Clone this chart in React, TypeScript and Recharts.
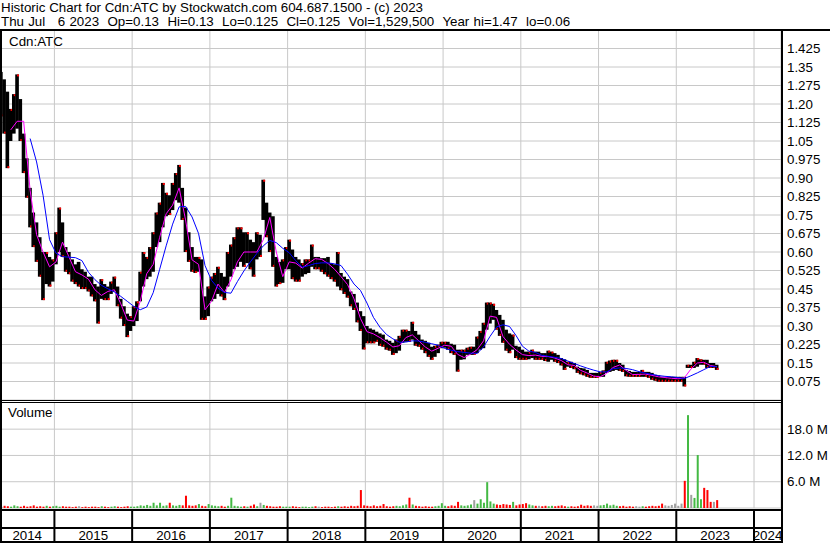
import React from 'react';
import { ComposedChart, Bar, Line, XAxis, YAxis, CartesianGrid } from 'recharts';

const FONT = '"Liberation Sans", Arial, sans-serif';
const FS = 13.33;

// half-month periods, first one is the second half of April 2014
const START_YEAR = 2014;
const START_HALF = 7;

const HI = [
  1.33, 1.30, 1.25, 1.18, 1.24, 1.32, 1.22, 1.08, 0.98, 0.86,
  0.76, 0.72, 0.66, 0.60, 0.60, 0.58, 0.57, 0.68, 0.78, 0.72,
  0.62, 0.60, 0.57, 0.55, 0.56, 0.53, 0.52, 0.50, 0.50, 0.47,
  0.46, 0.49, 0.47, 0.46, 0.48, 0.50, 0.46, 0.41, 0.38, 0.35,
  0.34, 0.38, 0.40, 0.52, 0.60, 0.58, 0.62, 0.68, 0.76, 0.80,
  0.88, 0.84, 0.83, 0.88, 0.92, 0.953, 0.86, 0.78, 0.68, 0.62,
  0.58, 0.58, 0.57, 0.42, 0.46, 0.50, 0.515, 0.54, 0.515, 0.50,
  0.60, 0.63, 0.66, 0.70, 0.70, 0.68, 0.68, 0.65, 0.64, 0.68,
  0.67, 0.893, 0.80, 0.76, 0.745, 0.58, 0.56, 0.57, 0.62, 0.65,
  0.61, 0.58, 0.57, 0.555, 0.57, 0.57, 0.63, 0.58, 0.58, 0.575,
  0.575, 0.58, 0.555, 0.55, 0.60, 0.515, 0.50, 0.49, 0.44, 0.43,
  0.395, 0.36, 0.34, 0.30, 0.29, 0.285, 0.277, 0.27, 0.265, 0.245,
  0.24, 0.232, 0.245, 0.26, 0.285, 0.285, 0.28, 0.317, 0.28, 0.265,
  0.245, 0.24, 0.232, 0.216, 0.22, 0.224, 0.236, 0.236, 0.236, 0.228,
  0.224, 0.204, 0.204, 0.204, 0.212, 0.216, 0.216, 0.257, 0.28, 0.313,
  0.395, 0.395, 0.39, 0.365, 0.345, 0.325, 0.285, 0.27, 0.265, 0.22,
  0.216, 0.204, 0.196, 0.196, 0.204, 0.196, 0.196, 0.19, 0.19, 0.20,
  0.196, 0.19, 0.183, 0.17, 0.165, 0.155, 0.155, 0.15, 0.135, 0.13,
  0.128, 0.122, 0.11, 0.11, 0.11, 0.114, 0.12, 0.155, 0.16, 0.163,
  0.163, 0.15, 0.143, 0.122, 0.118, 0.114, 0.114, 0.114, 0.122, 0.114,
  0.114, 0.11, 0.102, 0.10, 0.094, 0.094, 0.094, 0.094, 0.094, 0.094,
  0.094, 0.094, 0.143, 0.143, 0.155, 0.17, 0.165, 0.163, 0.163, 0.15,
  0.15, 0.143,
];

const LO = [
  1.15, 1.08, 0.94, 1.05, 1.08, 1.10, 1.05, 0.92, 0.82, 0.70,
  0.62, 0.56, 0.50, 0.405, 0.47, 0.46, 0.48, 0.55, 0.60, 0.58,
  0.52, 0.51, 0.48, 0.47, 0.46, 0.45, 0.45, 0.44, 0.42, 0.40,
  0.31, 0.41, 0.405, 0.405, 0.43, 0.44, 0.38, 0.33, 0.30, 0.255,
  0.28, 0.30, 0.32, 0.40, 0.46, 0.49, 0.50, 0.52, 0.62, 0.64,
  0.70, 0.745, 0.75, 0.77, 0.81, 0.80, 0.73, 0.60, 0.56, 0.52,
  0.515, 0.52, 0.325, 0.325, 0.34, 0.40, 0.41, 0.43, 0.42, 0.405,
  0.46, 0.50, 0.53, 0.54, 0.56, 0.54, 0.555, 0.53, 0.50, 0.57,
  0.58, 0.73, 0.66, 0.60, 0.54, 0.46, 0.47, 0.475, 0.53, 0.53,
  0.49, 0.48, 0.48, 0.50, 0.51, 0.515, 0.54, 0.53, 0.53, 0.52,
  0.51, 0.50, 0.49, 0.48, 0.46, 0.445, 0.43, 0.415, 0.38, 0.365,
  0.315, 0.28, 0.205, 0.23, 0.23, 0.23, 0.236, 0.22, 0.216, 0.204,
  0.20, 0.183, 0.19, 0.20, 0.232, 0.236, 0.236, 0.245, 0.22, 0.216,
  0.204, 0.19, 0.175, 0.163, 0.175, 0.19, 0.21, 0.212, 0.204, 0.19,
  0.183, 0.115, 0.163, 0.165, 0.183, 0.183, 0.183, 0.19, 0.204, 0.21,
  0.285, 0.31, 0.325, 0.285, 0.26, 0.232, 0.20, 0.19, 0.204, 0.17,
  0.163, 0.163, 0.163, 0.165, 0.17, 0.163, 0.163, 0.163, 0.158, 0.155,
  0.163, 0.155, 0.15, 0.14, 0.122, 0.135, 0.13, 0.125, 0.11, 0.104,
  0.10, 0.094, 0.09, 0.09, 0.09, 0.094, 0.094, 0.11, 0.114, 0.118,
  0.122, 0.118, 0.114, 0.096, 0.094, 0.094, 0.094, 0.094, 0.094, 0.094,
  0.09, 0.082, 0.078, 0.074, 0.074, 0.074, 0.074, 0.074, 0.074, 0.074,
  0.074, 0.055, 0.13, 0.13, 0.13, 0.135, 0.143, 0.143, 0.13, 0.13,
  0.13, 0.122,
];

// volume in millions, one value per half-month
const VOL = [
  0.3, 0.5, 0.4, 0.3, 0.6, 0.4, 0.3, 0.5, 0.3, 0.4, 0.6, 0.3, 0.4, 0.3, 0.5, 0.3, 0.4,
  0.5, 0.3, 0.4, 0.3, 0.3, 0.2, 0.3, 0.4, 0.2, 0.3, 0.2, 0.3, 0.3, 0.2, 0.4, 0.3, 0.2, 0.3, 0.4, 0.3, 0.2, 0.3, 0.4, 0.3,
  0.3, 0.4, 0.6, 0.5, 0.7, 0.5, 1.2, 0.6, 1.2, 0.5, 0.6, 1.2, 0.6, 0.5, 0.7, 0.6, 2.8, 0.6, 0.5, 0.6, 0.9, 0.5, 0.4, 0.9,
  0.6, 0.5, 0.4, 0.5, 0.3, 0.5, 2.35, 0.5, 0.4, 0.3, 0.4, 0.3, 0.5, 0.8, 0.4, 1.2, 0.7, 0.5, 0.4, 0.3, 0.3, 0.4, 0.3, 0.3,
  0.3, 0.4, 0.3, 0.2, 0.3, 0.3, 0.2, 0.3, 0.4, 0.3, 0.2, 0.3, 0.3, 0.2, 0.3, 0.4, 0.3, 0.4, 0.3, 0.5, 0.4, 0.5, 4.1, 0.6,
  0.5, 0.4, 0.6, 0.4, 0.5, 0.9, 0.4, 0.3, 0.4, 0.5, 0.4, 0.6, 0.8, 2.35, 0.8, 0.5, 0.4, 0.3, 0.4, 0.3, 0.3, 0.4, 0.5, 1.1,
  0.5, 0.4, 0.6, 0.5, 1.4, 0.6, 0.5, 0.6, 0.8, 1.8, 1.0, 2.0, 1.2, 5.9, 1.5, 1.0, 0.8, 0.7, 0.9, 0.8, 0.7, 1.4, 0.6, 0.8,
  0.9, 1.1, 0.8, 0.6, 0.5, 0.5, 0.4, 0.5, 0.4, 0.5, 0.4, 0.5, 0.6, 0.4, 0.3, 0.4, 0.3, 0.4, 0.75, 0.5, 0.6, 0.5, 0.6, 0.5,
  0.6, 0.7, 1.0, 0.6, 0.75, 0.5, 0.4, 0.5, 0.3, 0.4, 0.3, 0.4, 0.3, 0.4, 0.3, 0.4, 0.5, 0.4, 0.5, 1.0, 0.6, 0.5, 0.7, 1.0,
  0.5, 1.0, 6.2, 21.2, 3.0, 2.3, 12.1, 2.0, 4.6, 4.1, 1.4, 1.4, 1.8,
];

// moving averages, read once per month (first half of each month)
const MA_FAST = [
  null, 1.095, 1.13, 1.13, 0.85, 0.67, 0.60, 0.54, 0.56, 0.64,
  0.58, 0.52, 0.507, 0.49, 0.447, 0.424, 0.44, 0.447, 0.39, 0.324,
  0.32, 0.40, 0.512, 0.55, 0.66, 0.755, 0.79, 0.86, 0.73, 0.568,
  0.55, 0.366, 0.40, 0.47, 0.436, 0.487, 0.56, 0.60, 0.60, 0.60,
  0.65, 0.74, 0.60, 0.50, 0.56, 0.555, 0.535, 0.555, 0.573, 0.57,
  0.553, 0.53, 0.50, 0.468, 0.41, 0.33, 0.277, 0.268, 0.253, 0.235,
  0.215, 0.22, 0.253, 0.264, 0.24, 0.215, 0.198, 0.21, 0.222, 0.218,
  0.185, 0.172, 0.186, 0.204, 0.24, 0.34, 0.335, 0.257, 0.226, 0.203,
  0.184, 0.18, 0.182, 0.177, 0.176, 0.17, 0.16, 0.143, 0.14, 0.12,
  0.109, 0.097, 0.094, 0.108, 0.132, 0.142, 0.12, 0.103, 0.104, 0.105,
  0.10, 0.094, 0.091, 0.088, 0.086, 0.09, 0.125, 0.15, 0.153, 0.14,
  0.135,
];

const MA_SLOW = [
  null, null, null, null, 1.06, 0.965, 0.83, 0.65, 0.595, 0.581,
  0.579, 0.577, 0.565, 0.518, 0.488, 0.465, 0.451, 0.438, 0.42, 0.40,
  0.38, 0.366, 0.377, 0.435, 0.53, 0.625, 0.713, 0.783, 0.785, 0.742,
  0.675, 0.545, 0.485, 0.454, 0.436, 0.433, 0.48, 0.523, 0.56, 0.594,
  0.625, 0.647, 0.638, 0.615, 0.597, 0.565, 0.538, 0.545, 0.553, 0.556,
  0.556, 0.552, 0.545, 0.51, 0.47, 0.444, 0.393, 0.335, 0.295, 0.266,
  0.248, 0.234, 0.235, 0.24, 0.239, 0.234, 0.228, 0.222, 0.209, 0.202,
  0.196, 0.193, 0.19, 0.189, 0.215, 0.258, 0.296, 0.305, 0.298, 0.262,
  0.218, 0.198, 0.193, 0.181, 0.177, 0.173, 0.168, 0.158, 0.148, 0.138,
  0.129, 0.121, 0.114, 0.114, 0.127, 0.13, 0.128, 0.123, 0.115, 0.109,
  0.104, 0.099, 0.096, 0.094, 0.091, 0.087, 0.098, 0.11, 0.123, 0.136,
  0.135,
];

const PRICE_TICKS = [
  0.075, 0.15, 0.225, 0.3, 0.375, 0.45, 0.525, 0.6, 0.675, 0.75,
  0.825, 0.9, 0.975, 1.05, 1.125, 1.2, 1.275, 1.35, 1.425,
];
const VOL_TICKS = [6, 12, 18];
const YEAR_TICKS = [2015, 2016, 2017, 2018, 2019, 2020, 2021, 2022, 2023, 2024];

const X_MIN = 2014.3;
const X_MAX = 2024.347;
const CHART_W = 830;
const AXIS_W = 49;
const PLOT_W = CHART_W - AXIS_W;
const YEAR_PX = PLOT_W / (X_MAX - X_MIN);
const SLOT_PX = YEAR_PX / 24;

const rows = HI.map((hi, i) => {
  const lo = LO[i];
  const mid = (hi + lo) / 2;
  const prev = i > 0 ? (HI[i - 1] + LO[i - 1]) / 2 : mid;
  const d = mid - prev;
  const j = (i - 1) / 2;
  return {
    t: START_YEAR + (START_HALF + i + 0.5) / 24,
    hi,
    lo,
    vol: VOL[i],
    dir: d > 0.001 ? 1 : d < -0.001 ? -1 : 0,
    fast: i % 2 === 1 ? MA_FAST[j] : null,
    slow: i % 2 === 1 ? MA_SLOW[j] : null,
  };
});

const VOL_COLORS: Record<string, string> = { '1': '#44b944', '-1': '#ff0000', '0': '#a0a0a0' };

const fmtPrice = (v: number) => {
  const s = v.toFixed(3);
  return s.endsWith('0') ? v.toFixed(2) : s;
};

// high-low bar filling its whole half-month slot, with a red close mark
const PriceBar = (p: any) => {
  const { x, y, width, height, payload } = p;
  if (x == null || y == null || isNaN(y)) return null;
  const top = height < 0 ? y + height : y;
  const h = Math.max(Math.abs(height), 1.5);
  const cx = x + width / 2;
  const w = SLOT_PX + 0.4;
  const tickY = payload.dir > 0 ? top : top + h - 2;
  return (
    <g>
      <rect x={cx - w / 2} y={top} width={w} height={h} fill="#000" />
      <rect x={cx} y={tickY} width={2} height={2} fill="#ff0000" />
    </g>
  );
};

const VolBar = (p: any) => {
  if (p.x == null || !(p.height > 0)) return null;
  return <rect x={p.x} y={p.y} width={p.width} height={p.height} fill={VOL_COLORS[String(p.payload.dir)]} />;
};

const YearTick = (p: any) => {
  const { x, y, payload } = p;
  const yr = payload.value;
  const labels = [{ yr: yr - 1, cx: (Math.max(x - YEAR_PX, 0) + x) / 2 }];
  if (yr === YEAR_TICKS[YEAR_TICKS.length - 1]) {
    labels.push({ yr, cx: (x + Math.min(x + YEAR_PX, PLOT_W)) / 2 });
  }
  return (
    <g>
      <line x1={x} x2={x} y1={y + 2} y2={y + 34} stroke="#000" strokeWidth={2} />
      {labels.map((l) => (
        <text key={l.yr} x={l.cx} y={y + 32} textAnchor="middle" fontFamily={FONT} fontSize={FS} fill="#000">
          {l.yr}
        </text>
      ))}
    </g>
  );
};

const tickStyle = { fill: '#000', fontSize: FS, fontFamily: FONT };

const line = (style: React.CSSProperties) => (
  <div style={{ position: 'absolute', background: '#000', ...style }} />
);

export default function App() {
  return (
    <div
      style={{
        position: 'absolute', left: 0, top: 0, width: 830, height: 543,
        background: '#fff', fontFamily: FONT, fontSize: FS, color: '#000', overflow: 'hidden',
      }}
    >
      <div style={{ position: 'absolute', left: 1, top: 1, lineHeight: '14px', whiteSpace: 'pre' }}>
        <div>Historic Chart for Cdn:ATC by Stockwatch.com 604.687.1500 - (c) 2023</div>
        <div style={{ wordSpacing: 0.5 }}>
          {'Thu Jul   6 2023  Op=0.13  Hi=0.13  Lo=0.125  Cl=0.125  Vol=1,529,500  Year hi=1.47  lo=0.06'}
        </div>
      </div>

      <div style={{ position: 'absolute', left: 0, top: 0 }}>
        <ComposedChart width={CHART_W} height={402} data={rows} margin={{ top: 30, right: 0, bottom: 2, left: 0 }}>
          <CartesianGrid stroke="#c8c8c8" />
          <XAxis type="number" dataKey="t" domain={[X_MIN, X_MAX]} ticks={YEAR_TICKS} allowDataOverflow hide />
          <YAxis
            orientation="right" width={AXIS_W} domain={[0, 1.5]} ticks={PRICE_TICKS} interval={0}
            axisLine={false} tickLine={false} tickSize={4} tickMargin={2}
            tick={tickStyle} tickFormatter={fmtPrice} allowDataOverflow
          />
          <Bar dataKey={(d: any) => [d.lo, d.hi]} barSize={3} shape={PriceBar} isAnimationActive={false} />
          <Line dataKey="fast" stroke="#ff00ff" strokeWidth={1} dot={false} connectNulls isAnimationActive={false} />
          <Line dataKey="slow" stroke="#0000ff" strokeWidth={1} dot={false} connectNulls isAnimationActive={false} />
        </ComposedChart>
      </div>

      <div style={{ position: 'absolute', left: 0, top: 402 }}>
        <ComposedChart width={CHART_W} height={141} data={rows} margin={{ top: 0, right: 0, bottom: 0, left: 0 }}>
          <CartesianGrid stroke="#c8c8c8" />
          <XAxis
            type="number" dataKey="t" domain={[X_MIN, X_MAX]} ticks={YEAR_TICKS} interval={0} allowDataOverflow
            height={35} axisLine={false} tickLine={false} tickSize={0} tickMargin={0} tick={YearTick}
          />
          <YAxis
            orientation="right" width={AXIS_W} domain={[0, 24.2]} ticks={VOL_TICKS} interval={0}
            axisLine={false} tickLine={false} tickSize={4} tickMargin={2}
            tick={tickStyle} tickFormatter={(v: number) => `${v.toFixed(1)} M`} allowDataOverflow
          />
          <Bar dataKey="vol" barSize={2} shape={VolBar} isAnimationActive={false} />
        </ComposedChart>
      </div>

      <div style={{ position: 'absolute', left: 9, top: 35, lineHeight: '14px' }}>Cdn:ATC</div>
      <div style={{ position: 'absolute', left: 8, top: 406, lineHeight: '14px' }}>Volume</div>

      {line({ left: 0, top: 29, width: 830, height: 2 })}
      {line({ left: 0, top: 31, width: 2, height: 512 })}
      {line({ left: 781, top: 31, width: 2, height: 512 })}
      {line({ left: 0, top: 400, width: 781, height: 1 })}
      {line({ left: 0, top: 402, width: 781, height: 1 })}
      {line({ left: 0, top: 509, width: 781, height: 2 })}
      {line({ left: 0, top: 527, width: 781, height: 2 })}
      {line({ left: 0, top: 541, width: 781, height: 2 })}
    </div>
  );
}
